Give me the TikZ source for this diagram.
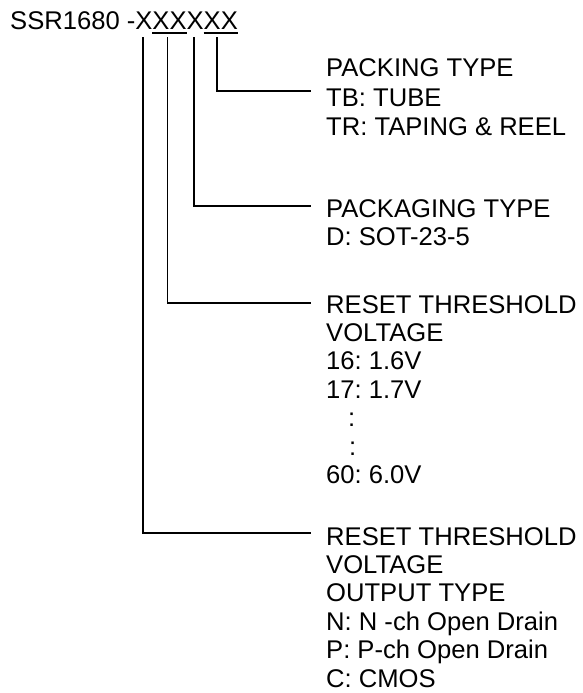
\documentclass[tikz,border=0pt]{standalone}
\usepackage{fontspec}
\setmainfont{Liberation Sans}
\frenchspacing
\tikzset{
  lbl/.style={anchor=base west, inner sep=0pt, font=\fontsize{25.6}{28}\selectfont\frenchspacing},
  lead/.style={line width=1.6pt, line cap=rect},
  uline/.style={line width=1.6pt}
}
\begin{document}
\begin{tikzpicture}[x=1pt,y=-1pt]
\useasboundingbox (0,0) rectangle (582,693);
% title
\node[lbl] (title) at (10,29.5) {SSR1680 -XXXXXX};
\coordinate (u1a) at (152.3,33); \coordinate (u1b) at (186.5,33);
\coordinate (u2a) at (203.5,33); \coordinate (u2b) at (237.7,33);
\draw[uline] (u1a) -- (u1b);
\draw[uline] (u2a) -- (u2b);
% tops of leaders
\coordinate (t4) at (143,38);
\coordinate (t3) at (167.5,38);
\coordinate (t2) at (194,38);
\coordinate (t1) at (217,38);
% ends of leaders
\coordinate (e1) at (310,90.7);
\coordinate (e2) at (310,206);
\coordinate (e3) at (310,303);
\coordinate (e4) at (310,533);
% block 1
\node[lbl] (b1l1) at (326,77) {PACKING TYPE};
\node[lbl] (b1l2) at (326,106) {TB: TUBE};
\node[lbl] (b1l3) at (326,135) {TR: TAPING \& REEL};
% block 2
\node[lbl] (b2l1) at (326,217) {PACKAGING TYPE};
\node[lbl] (b2l2) at (326,245) {D: SOT-23-5};
% block 3
\node[lbl] (b3l1) at (326,313) {RESET THRESHOLD};
\node[lbl] (b3l2) at (326,341.4) {VOLTAGE};
\node[lbl] (b3l3) at (326,369.8) {16: 1.6V};
\node[lbl] (b3l4) at (326,398.2) {17: 1.7V};
\node[lbl] (b3l5) at (348,426.6) {:};
\node[lbl] (b3l6) at (349,455) {:};
\node[lbl] (b3l7) at (326,483.4) {60: 6.0V};
% block 4
\node[lbl] (b4l1) at (326,545) {RESET THRESHOLD};
\node[lbl] (b4l2) at (326,573.4) {VOLTAGE};
\node[lbl] (b4l3) at (326,601.8) {OUTPUT TYPE};
\node[lbl] (b4l4) at (326,630.2) {N: N -ch Open Drain};
\node[lbl] (b4l5) at (326,658.6) {P: P-ch Open Drain};
\node[lbl] (b4l6) at (326,687) {C: CMOS};
% leaders
\draw[lead] (t1) |- (e1);
\draw[lead] (t2) |- (e2);
\draw[lead] (t3) |- (e3);
\draw[lead] (t4) |- (e4);
\end{tikzpicture}
\end{document}
